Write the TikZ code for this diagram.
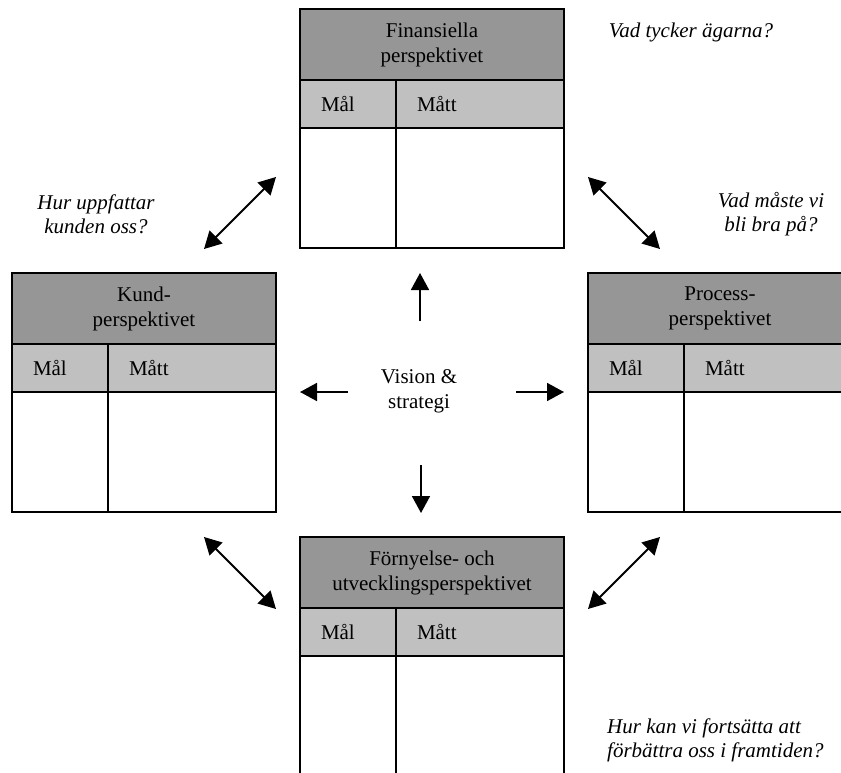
\documentclass[tikz,border=0pt]{standalone}
\usepackage{fontspec}
\setmainfont{Liberation Serif}
\usetikzlibrary{arrows.meta}
\definecolor{hdrgray}{RGB}{150,150,150}
\definecolor{subgray}{RGB}{192,192,192}
\begin{document}
\begin{tikzpicture}[x=1pt,y=-1pt,
  every node/.style={font=\fontsize{21}{25}\selectfont},
  box/.style={draw, line width=1.8pt, inner sep=0pt, outer sep=0pt},
  hdr/.style={box, fill=hdrgray, minimum width=264pt, minimum height=71pt, align=center},
  malc/.style={box, fill=subgray, anchor=north west, minimum height=48pt, inner xsep=21pt, text width=54pt, align=left},
  mattc/.style={box, fill=subgray, anchor=north west, minimum height=48pt, inner xsep=21pt, text width=126pt, align=left},
  bodyl/.style={box, fill=white, anchor=north west, minimum width=96pt, minimum height=120pt},
  bodyr/.style={box, fill=white, anchor=north west, minimum width=168pt, minimum height=120pt},
  question/.style={font=\fontsize{21}{24}\selectfont\itshape, align=center, inner sep=0pt},
  arr/.style={line width=1.8pt, -{Triangle[length=17pt,width=18pt]}},
  darr/.style={line width=1.8pt, {Triangle[length=17pt,width=18pt]}-{Triangle[length=17pt,width=18pt]}}
]
\useasboundingbox (0,0) rectangle (841,773);
\fill[white] (0,0) rectangle (841,773);

% Finansiella (top)
\node[hdr] (fH) at (432,44.5) {Finansiella\\perspektivet};
\node[malc] (fM) at (fH.south west) {Mål};
\node[mattc] (fT) at (fM.north east) {Mått};
\node[bodyl] (fB1) at (fM.south west) {};
\node[bodyr] (fB2) at (fM.south east) {};

% Kund (left)
\node[hdr] (kH) at (144,308.5) {Kund-\\perspektivet};
\node[malc] (kM) at (kH.south west) {Mål};
\node[mattc] (kT) at (kM.north east) {Mått};
\node[bodyl] (kB1) at (kM.south west) {};
\node[bodyr] (kB2) at (kM.south east) {};

% Process (right)
\node[hdr] (pH) at (720,308.5) {Process-\\perspektivet};
\node[malc] (pM) at (pH.south west) {Mål};
\node[mattc] (pT) at (pM.north east) {Mått};
\node[bodyl] (pB1) at (pM.south west) {};
\node[bodyr] (pB2) at (pM.south east) {};

% Förnyelse (bottom)
\node[hdr] (uH) at (432,572.5) {Förnyelse- och\\utvecklingsperspektivet};
\node[malc] (uM) at (uH.south west) {Mål};
\node[mattc] (uT) at (uM.north east) {Mått};
\node[bodyl] (uB1) at (uM.south west) {};
\node[bodyr] (uB2) at (uM.south east) {};

% centre
\node[align=center, inner sep=0pt] (vs) at (419,391) {Vision \&\\strategi};

% questions
\node[question] (q1) at (691,32) {Vad tycker ägarna?};
\node[question] (q2) at (96,214) {Hur uppfattar\\kunden oss?};
\node[question] (q3) at (771,214) {Vad måste vi\\bli bra på?};
\node[question, align=left, anchor=west] (q4) at (607,740) {Hur kan vi fortsätta att\\förbättra oss i framtiden?};

% central arrows
\coordinate (upS) at (420,321); \coordinate (upE) at (420,273);
\coordinate (dnS) at (421,465); \coordinate (dnE) at (421,513);
\coordinate (lfS) at (348,392); \coordinate (lfE) at (300,392);
\coordinate (rtS) at (516,392); \coordinate (rtE) at (564,392);
\draw[arr] (upS) -- (upE);
\draw[arr] (dnS) -- (dnE);
\draw[arr] (lfS) -- (lfE);
\draw[arr] (rtS) -- (rtE);

% diagonal arrows
\coordinate (ul1) at (276,177); \coordinate (ul2) at (204,249);
\coordinate (ur1) at (588,177); \coordinate (ur2) at (660,249);
\coordinate (ll1) at (204,537); \coordinate (ll2) at (276,609);
\coordinate (lr1) at (660,537); \coordinate (lr2) at (588,609);
\draw[darr] (ul1) -- (ul2);
\draw[darr] (ur1) -- (ur2);
\draw[darr] (ll1) -- (ll2);
\draw[darr] (lr1) -- (lr2);
\end{tikzpicture}
\end{document}
